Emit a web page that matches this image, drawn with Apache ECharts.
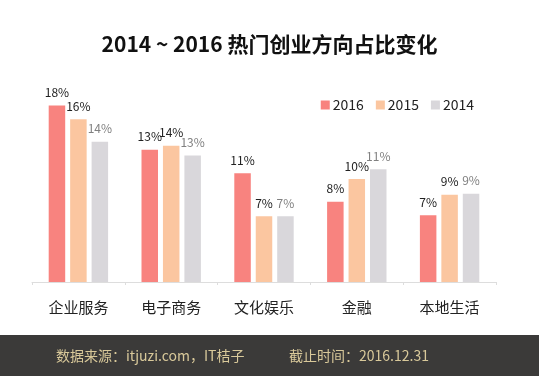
<!DOCTYPE html>
<html><head><meta charset="utf-8">
<script src="https://cdn.jsdelivr.net/npm/echarts@6/dist/echarts.min.js"></script>
<style>html,body{margin:0;padding:0;background:#fff}#c{width:539px;height:376px}</style>
</head><body><div id="c"></div>
<script>
const categories = ['企业服务','电子商务','文化娱乐','金融','本地生活'];
const seriesNames = ['2016','2015','2014'];
const values2016 = [18.0, 13.5, 11.1, 8.2, 6.8];
const values2015 = [16.6, 13.9, 6.7, 10.5, 8.9];
const values2014 = [14.3, 12.9, 6.7, 11.5, 9.0];
const labels2016 = ['18%','13%','11%','8%','7%'];
const labels2015 = ['16%','14%','7%','10%','9%'];
const labels2014 = ['14%','13%','7%','11%','9%'];
const colors = ['#F8837F','#FBC6A0','#D9D7DB'];
const labelColors = ['#222','#222','#808080'];
const ff = '"Noto Sans CJK SC","Microsoft YaHei",sans-serif';

const allVals = [values2016, values2015, values2014];
const allLabels = [labels2016, labels2015, labels2014];

const chart = echarts.init(document.getElementById('c'));
chart.setOption({
  animation: false,
  backgroundColor: '#fff',
  title: {
    text: '2014 ~ 2016 热门创业方向占比变化',
    left: 'center', top: 29,
    textStyle: {fontFamily: ff, fontSize: 21, fontWeight: 'bold', color: '#111'}
  },
  legend: {
    data: seriesNames,
    right: 60, top: 93,
    itemWidth: 9, itemHeight: 9, itemGap: 12,
    icon: 'rect',
    textStyle: {fontFamily: ff, fontSize: 14, color: '#222', padding: [0,0,0,-2]}
  },
  grid: {left: 32, right: 43, top: 86, bottom: 94},
  xAxis: {
    type: 'category', data: categories,
    axisLine: {lineStyle: {color: '#ddd'}},
    axisTick: {show: true, length: 3, lineStyle: {color: '#ddd'}},
    axisLabel: {fontFamily: ff, fontSize: 15, color: '#222', margin: 18}
  },
  yAxis: {type: 'value', min: 0, max: 20, show: false, splitLine: {show: false}},
  series: seriesNames.map((n, i) => ({
    name: n, type: 'bar',
    data: allVals[i],
    barWidth: 16.5, barGap: '30%',
    itemStyle: {color: colors[i]},
    label: {
      show: true, position: 'top', distance: 7,
      fontFamily: ff, fontSize: 12, color: labelColors[i],
      formatter: p => allLabels[i][p.dataIndex]
    }
  })),
  graphic: [
    {type: 'rect', left: 0, top: 335, shape: {width: 539, height: 41}, style: {fill: '#3b3a39'}, z: 100},
    {type: 'text', left: 56, top: 349, style: {text: '数据来源：itjuzi.com，IT桔子', fill: '#D9C99A', font: '14px ' + ff}, z: 101},
    {type: 'text', left: 289, top: 349, style: {text: '截止时间：2016.12.31', fill: '#D9C99A', font: '14px ' + ff}, z: 101}
  ]
});
</script></body></html>
